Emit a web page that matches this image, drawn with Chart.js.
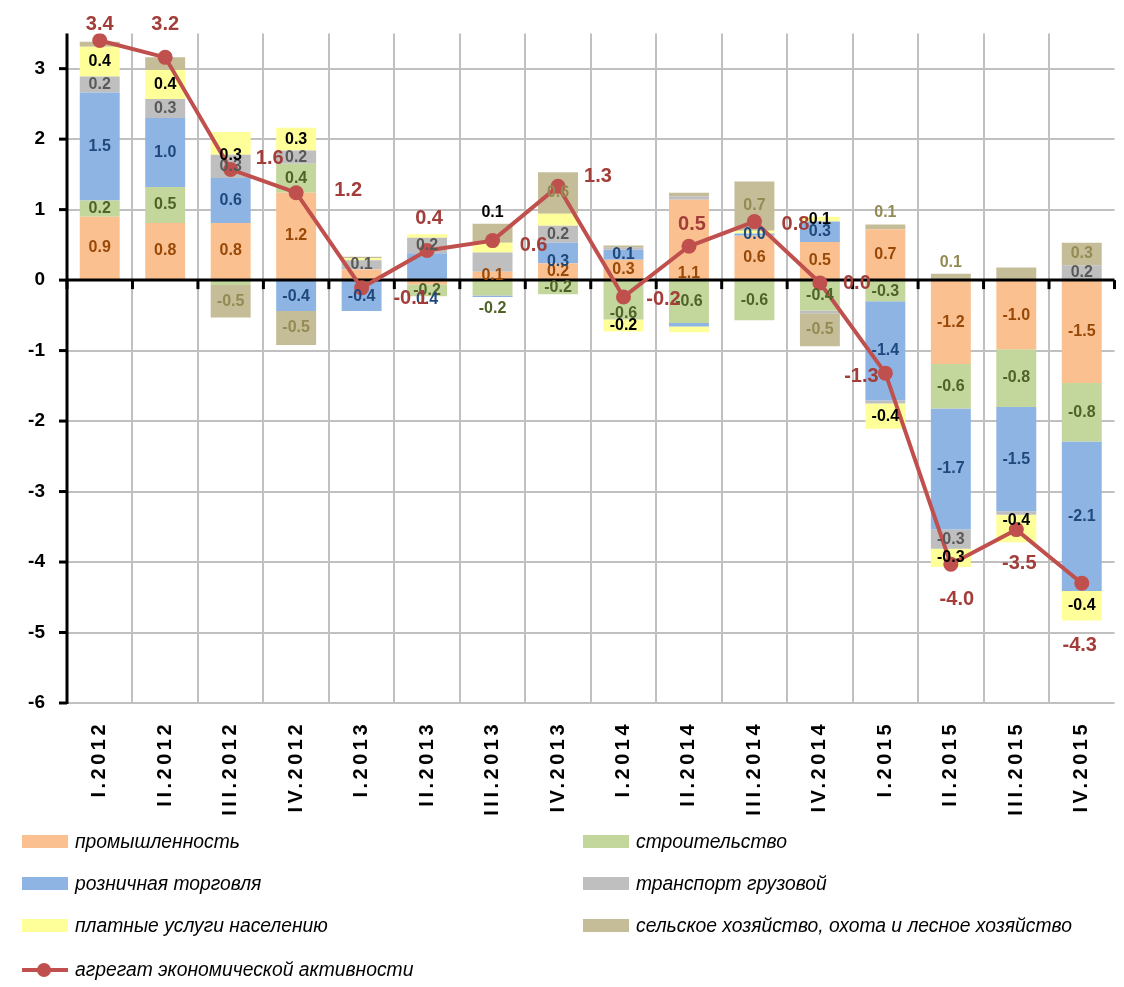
<!DOCTYPE html>
<html><head><meta charset="utf-8">
<script src="https://cdn.jsdelivr.net/npm/chart.js@4.4.1/dist/chart.umd.min.js"></script>
<style>
html,body{margin:0;padding:0;background:#fff;}
#wrap{position:relative;width:1124px;height:987px;overflow:hidden;}
canvas{position:absolute;left:0;top:0;}
.lg{position:absolute;font:italic 19.3px 'Liberation Sans',Arial,sans-serif;color:#000;white-space:nowrap;line-height:22px;}
.box{position:absolute;width:46px;height:13px;}
</style></head><body>
<div id="wrap"><canvas id="c" width="1124" height="987"></canvas><div id="legend"></div></div>
<script>
// ---------- DATA ----------
const categories = ['I.2012','II.2012','III.2012','IV.2012','I.2013','II.2013','III.2013','IV.2013',
                    'I.2014','II.2014','III.2014','IV.2014','I.2015','II.2015','III.2015','IV.2015'];
const industry     = [0.90, 0.81, 0.81, 1.24, 0.15, -0.06, 0.12, 0.24, 0.29, 1.14, 0.63, 0.54, 0.72, -1.19, -0.98, -1.46];
const construction = [0.23, 0.51, -0.07, 0.41, 0, -0.17, -0.22, -0.20, -0.56, -0.61, -0.57, -0.43, -0.30, -0.63, -0.82, -0.83];
const retail       = [1.53, 0.98, 0.64, -0.44, -0.44, 0.38, -0.02, 0.29, 0.14, -0.05, 0.03, 0.29, -1.41, -1.72, -1.48, -2.12];
const transport    = [0.23, 0.27, 0.33, 0.19, 0.13, 0.22, 0.27, 0.24, 0.03, 0.05, 0, -0.04, -0.04, -0.27, -0.05, 0.21];
const services     = [0.42, 0.41, 0.32, 0.32, 0.03, 0.05, 0.14, 0.17, -0.17, -0.08, 0.04, 0.07, -0.36, -0.26, -0.39, -0.42];
const agriculture  = [0.07, 0.18, -0.46, -0.48, 0.02, 0, 0.27, 0.59, 0.03, 0.05, 0.70, -0.47, 0.07, 0.09, 0.18, 0.32];
const aggregate    = [3.40, 3.16, 1.57, 1.24, -0.11, 0.42, 0.56, 1.33, -0.24, 0.48, 0.83, -0.04, -1.32, -4.03, -3.54, -4.30];
const yTickValues  = [-6, -5, -4, -3, -2, -1, 0, 1, 2, 3];

const seriesNames = {
  industry: 'промышленность', construction: 'строительство', retail: 'розничная торговля',
  transport: 'транспорт грузовой', services: 'платные услуги населению',
  agriculture: 'сельское хозяйство, охота и лесное хозяйство',
  aggregate: 'агрегат экономической активности'
};
// segments whose value labels are not shown in the original
const hiddenLabels = {
  industry: [4, 5], construction: [2], retail: [6, 9],
  transport: [6, 8, 9, 11, 12, 14], services: [4, 5, 7, 9, 10],
  agriculture: [0, 1, 4, 6, 8, 9, 14]
};

// ---------- STYLE ----------
const FONT = "'Liberation Sans', Arial, sans-serif";
const series = [
  {key:'industry',     values: industry,     color:'#FAC090', label:'#984807'},
  {key:'construction', values: construction, color:'#C3D69B', label:'#4F6228'},
  {key:'retail',       values: retail,       color:'#8EB4E3', label:'#1F497D'},
  {key:'transport',    values: transport,    color:'#BFBFBF', label:'#595959'},
  {key:'services',     values: services,     color:'#FFFF99', label:'#000000'},
  {key:'agriculture',  values: agriculture,  color:'#C4BD97', label:'#948A54'}
];
const lineColor = '#C0504D';
const aggLabelColor = '#A33D3A';
const aggLabelOffsets = [[0,-16],[0,-33],[39,-11],[52,-2],[49,11],[2,-32],[41,5],[40,-10],
                         [40,2],[3,-22],[41,3],[37,1],[-24,3],[6,35],[3,34],[-2,62]];
const segLabelShift = {'services:2':12,'retail:5':33,'services:6':-35,'industry:9':34,'construction:8':13,
                       'construction:6':20,'retail:7':9,'services:14':-8,'agriculture:12':-14,'agriculture:13':-14};

const fmt = v => { const r = Math.round(v*10)/10; return (r === 0 ? 0 : r).toFixed(1); };

const datasets = series.map(s => ({
  type:'bar', label: seriesNames[s.key], data: s.values, backgroundColor: s.color,
  borderWidth: 0, barPercentage: 0.61, categoryPercentage: 1.0, order: 1
}));
datasets.push({
  type:'line', label: seriesNames.aggregate, data: aggregate, borderColor: lineColor,
  backgroundColor: lineColor, borderWidth: 4, pointRadius: 7.5, pointHoverRadius: 7.5,
  pointBackgroundColor: lineColor, pointBorderWidth: 0, tension: 0, order: 0
});

const axesPlugin = {
  id:'axes',
  afterLayout(chart){
    const sx = chart.scales.x;
    if (!sx._lsPatched){
      const orig = sx.drawLabels.bind(sx);
      sx.drawLabels = function(area){ const c = this.ctx; c.save(); c.letterSpacing = '3.5px'; orig(area); c.restore(); };
      sx._lsPatched = true;
    }
  },
  beforeDatasetDraw(chart, args){
    if (args.index !== series.length) return;
    const ctx = chart.ctx, a = chart.chartArea, ys = chart.scales.y;
    const y0 = ys.getPixelForValue(0);
    ctx.save();
    ctx.strokeStyle = '#000'; ctx.lineWidth = 3; ctx.lineCap = 'butt';
    ctx.beginPath(); ctx.moveTo(a.left, a.top); ctx.lineTo(a.left, a.bottom + 1); ctx.stroke();
    yTickValues.forEach(v => { const y = ys.getPixelForValue(v); ctx.beginPath(); ctx.moveTo(a.left - 8, y); ctx.lineTo(a.left, y); ctx.stroke(); });
    ctx.beginPath(); ctx.moveTo(a.left, y0); ctx.lineTo(a.right, y0); ctx.stroke();
    const n = categories.length, w = (a.right - a.left) / n;
    for (let i = 0; i <= n; i++){ const x = a.left + i*w; ctx.beginPath(); ctx.moveTo(x, y0); ctx.lineTo(x, y0 + 9); ctx.stroke(); }
    ctx.restore();
  },
  afterDatasetsDraw(chart){
    const ctx = chart.ctx;
    ctx.save(); ctx.textAlign = 'center'; ctx.textBaseline = 'middle';
    ctx.font = 'bold 16px ' + FONT;
    series.forEach((s, i) => {
      const meta = chart.getDatasetMeta(i);
      meta.data.forEach((el, j) => {
        const v = s.values[j];
        if (!v || hiddenLabels[s.key].includes(j)) return;
        const top = Math.min(el.y, el.base), bot = Math.max(el.y, el.base);
        let y = (top + bot) / 2;
        const k = s.key + ':' + j; if (segLabelShift[k]) y += segLabelShift[k];
        ctx.fillStyle = s.label; ctx.fillText(fmt(v), el.x, y);
      });
    });
    ctx.font = 'bold 20px ' + FONT; ctx.fillStyle = aggLabelColor;
    chart.getDatasetMeta(series.length).data.forEach((el, j) => {
      const o = aggLabelOffsets[j];
      ctx.fillText(fmt(aggregate[j]), el.x + o[0], el.y + o[1]);
    });
    ctx.restore();
  }
};

new Chart(document.getElementById('c'), {
  data: { labels: categories, datasets },
  options: {
    responsive:false, animation:false, devicePixelRatio:1,
    layout:{ padding:{ top:30, right:5, bottom:164, left:0 } },
    plugins:{ legend:{display:false}, tooltip:{enabled:false} },
    scales:{
      x:{ stacked:true, offset:true,
          grid:{ offset:true, lineWidth:2, drawTicks:false,
                 color: c => c.type === 'tick' ? '#C0C0C0' : 'rgba(0,0,0,0)' },
          border:{display:false},
          ticks:{ autoSkip:false, maxRotation:90, minRotation:90, padding:18, color:'#000',
                  font:{family:FONT, weight:'bold', size:20} },
          afterFit: s => { s.height = 120; } },
      y:{ stacked:true, min:-6, max:3.5,
          afterBuildTicks: s => { s.ticks = yTickValues.map(v => ({value:v})); },
          grid:{ color:'#C0C0C0', lineWidth:2, drawTicks:false },
          border:{display:false},
          ticks:{ padding:22, color:'#000', font:{family:FONT, weight:'bold', size:19}, callback: v => String(v) },
          afterFit: s => { s.width = 67; } }
    }
  },
  plugins:[axesPlugin]
});

// ---------- LEGEND (HTML) ----------
const lg = document.getElementById('legend');
const rows = [842, 884, 926];
const cols = [22, 583];
const order = [['industry','construction'],['retail','transport'],['services','agriculture']];
order.forEach((pair, r) => pair.forEach((key, c) => {
  const s = series.find(q => q.key === key);
  const b = document.createElement('div'); b.className = 'box';
  b.style.left = cols[c] + 'px'; b.style.top = (rows[r] - 7) + 'px'; b.style.background = s.color;
  lg.appendChild(b);
  const t = document.createElement('div'); t.className = 'lg'; t.textContent = seriesNames[key];
  t.style.left = (cols[c] + 53) + 'px'; t.style.top = (rows[r] - 11) + 'px';
  lg.appendChild(t);
}));
const ln = document.createElement('div');
ln.style.cssText = 'position:absolute;left:22px;top:968px;width:46px;height:4px;background:' + lineColor;
lg.appendChild(ln);
const dot = document.createElement('div');
dot.style.cssText = 'position:absolute;left:37px;top:963px;width:14px;height:14px;border-radius:50%;background:' + lineColor;
lg.appendChild(dot);
const lt = document.createElement('div'); lt.className = 'lg'; lt.textContent = seriesNames.aggregate;
lt.style.left = '75px'; lt.style.top = '959px'; lg.appendChild(lt);
</script>
</body></html>
